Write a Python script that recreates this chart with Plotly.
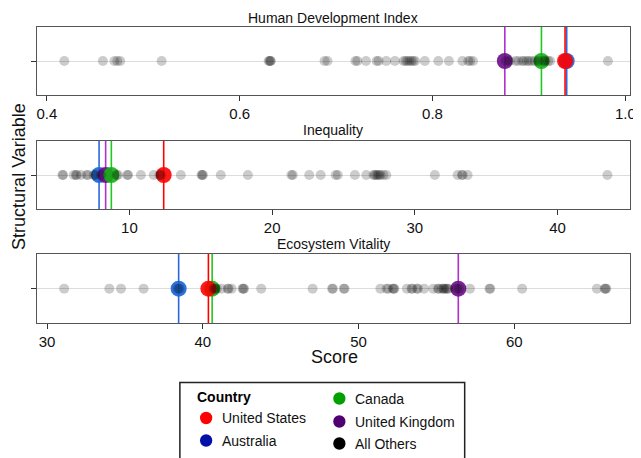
import plotly.graph_objects as go

# ---------------- data ----------------
countries = ["United States", "Australia", "Canada", "United Kingdom"]

hdi_country = [0.9375, 0.9392, 0.913, 0.875]
ineq_country = [12.4, 7.87, 8.73, 8.33]
eco_country = [40.36, 38.45, 40.6, 56.4]

hdi_others = [0.418, 0.458, 0.470, 0.473, 0.476, 0.519, 0.630, 0.631, 0.632, 0.632,
              0.688, 0.691, 0.720, 0.722, 0.731, 0.742, 0.744, 0.752, 0.761, 0.770,
              0.772, 0.774, 0.776, 0.778, 0.780, 0.782, 0.792, 0.806, 0.817, 0.831,
              0.837, 0.839, 0.842, 0.876, 0.880, 0.886, 0.889, 0.893, 0.895, 0.898,
              0.900, 0.903, 0.906, 0.910, 0.915, 0.917, 0.920, 0.922, 0.982]

ineq_others = [5.3, 5.35, 6.1, 6.25, 6.3, 6.6, 7.0, 7.1, 7.5, 7.6, 8.0, 9.1, 9.2, 9.85,
               9.9, 10.8, 11.7, 12.1, 12.2, 13.6, 15.05, 15.1, 15.15, 16.4, 18.3, 21.35,
               21.45, 22.6, 23.4, 24.45, 24.6, 25.8, 26.6, 27.1, 27.2, 27.3, 27.4, 27.5,
               27.6, 27.8, 28.0, 31.4, 33.0, 33.3, 33.35, 33.7, 43.5]

eco_others = [31.1, 34.0, 34.75, 36.2, 38.4, 38.5, 40.7, 40.8, 40.9, 41.2, 41.6, 41.65,
              41.85, 42.55, 42.6, 42.65, 43.75, 47.05, 48.3, 48.35, 49.05, 49.1, 51.4,
              51.8, 51.9, 52.2, 52.25, 52.3, 53.1, 53.4, 53.45, 53.75, 53.8, 54.2, 54.8,
              55.1, 55.15, 55.35, 55.45, 55.5, 55.6, 55.7, 55.75, 56.3, 56.45, 57.15,
              58.4, 58.45, 60.5, 65.3, 65.8, 65.85, 65.9]

panel_titles = ["Human Development Index", "Inequality", "Ecosystem Vitality"]
panel_ticks = [[0.4, 0.6, 0.8, 1.0], [10, 20, 30, 40], [30, 40, 50, 60]]
panel_ticktext = [["0.4", "0.6", "0.8", "1.0"], ["10", "20", "30", "40"], ["30", "40", "50", "60"]]

legend_labels = ["United States", "Australia", "Canada", "United Kingdom", "All Others"]

# ---------------- styles ----------------
W, H = 641, 458
OFF = 8  # page body margin
FONT = "Liberation Sans, Arial, Helvetica, sans-serif"
point_colors = ["#ff0000", "#1565d8", "#14b014", "#6a0d8a"]
line_colors = ["#ff0000", "#2a68dc", "#22c822", "#b030d0"]
legend_colors = ["#ff0000", "#0010a8", "#00a000", "#500070", "#000000"]
draw_order = [1, 3, 2, 0]  # Australia, UK, Canada, US (US on top)

ranges = [[0.3894, 1.005], [3.5, 45.09], [29.34, 67.43]]
ypix = [(27, 95), (140.7, 209.3), (254, 323.3)]
title_y = [18, 130, 244.5]


def px(x):
    return (x - OFF) / W


def py(y):
    return 1 - (y - OFF) / H


fig = go.Figure()
others = [hdi_others, ineq_others, eco_others]
cvals = [hdi_country, ineq_country, eco_country]

for i in range(3):
    xa = "x" if i == 0 else f"x{i+1}"
    ya = "y" if i == 0 else f"y{i+1}"
    for c in draw_order:
        v = cvals[i][c]
        fig.add_trace(go.Scatter(x=[v, v], y=[-1, 1], mode="lines",
                                 line=dict(color=line_colors[c], width=1.6),
                                 xaxis=xa, yaxis=ya, hoverinfo="skip", showlegend=False))
    fig.add_trace(go.Scatter(x=[cvals[i][c] for c in draw_order], y=[0] * len(draw_order),
                             mode="markers",
                             marker=dict(color=[point_colors[c] for c in draw_order], size=16,
                                         opacity=0.9, line=dict(width=0)),
                             text=[countries[c] for c in draw_order],
                             xaxis=xa, yaxis=ya, showlegend=False))
    fig.add_trace(go.Scatter(x=others[i], y=[0] * len(others[i]), mode="markers",
                             marker=dict(color="rgba(0,0,0,0.2)", size=10, line=dict(width=0)),
                             xaxis=xa, yaxis=ya, showlegend=False))

layout = dict(width=W, height=H, margin=dict(l=0, r=0, t=0, b=0),
              plot_bgcolor="white", paper_bgcolor="white", showlegend=False,
              font=dict(family=FONT, color="#111"))

for i in range(3):
    xk = "xaxis" if i == 0 else f"xaxis{i+1}"
    yk = "yaxis" if i == 0 else f"yaxis{i+1}"
    ya = "y" if i == 0 else f"y{i+1}"
    xa = "x" if i == 0 else f"x{i+1}"
    top, bot = ypix[i]
    layout[xk] = dict(domain=[px(37), px(636)], range=ranges[i], anchor=ya,
                      tickvals=panel_ticks[i], ticktext=panel_ticktext[i],
                      ticks="outside", ticklen=5, tickcolor="#333", tickwidth=1.3,
                      showline=True, mirror=True, linecolor="#555", linewidth=1,
                      showgrid=False, zeroline=False, tickfont=dict(size=15, color="#111"))
    layout[yk] = dict(domain=[py(bot), py(top)], range=[-1, 1], anchor=xa,
                      tickvals=[0], showticklabels=False, ticks="outside", ticklen=5,
                      tickcolor="#333", tickwidth=1.3,
                      showline=True, mirror=True, linecolor="#555", linewidth=1,
                      showgrid=True, gridcolor="#dcdcdc", gridwidth=1, zeroline=False)


def ann(x, y, text, size=14, anchor="center", angle=0, color="#111"):
    return dict(x=px(x), y=py(y), xref="paper", yref="paper", text=text, showarrow=False,
                xanchor=anchor, yanchor="middle", textangle=angle,
                font=dict(size=size, color=color))


annotations = [ann(336.5, title_y[i], panel_titles[i]) for i in range(3)]
annotations.append(ann(338, 357, "Score", size=18))
annotations.append(ann(19, 176, "Structural Variable", size=18, angle=-90))

# legend (drawn manually)
shapes = [dict(type="rect", xref="paper", yref="paper", x0=px(181.5), x1=px(469),
               y0=py(382.5), y1=py(475), line=dict(color="#222", width=1.5),
               fillcolor="rgba(0,0,0,0)")]
annotations.append(ann(197, 397, "<b>Country</b>", anchor="left", color="#000"))
leg_pos = [(208, 418), (208, 440.5), (342.5, 398.5), (342.5, 421.5), (342.5, 443.5)]
r = 6.2
for k, lab in enumerate(legend_labels):
    cx, cy = leg_pos[k]
    shapes.append(dict(type="circle", xref="paper", yref="paper",
                       x0=px(cx - r), x1=px(cx + r), y0=py(cy + r), y1=py(cy - r),
                       fillcolor=legend_colors[k], line=dict(width=0)))
    annotations.append(ann(cx + 13.5, cy, lab, anchor="left"))

layout["annotations"] = annotations
layout["shapes"] = shapes
fig.update_layout(**layout)
fig.write_html("out.html")
